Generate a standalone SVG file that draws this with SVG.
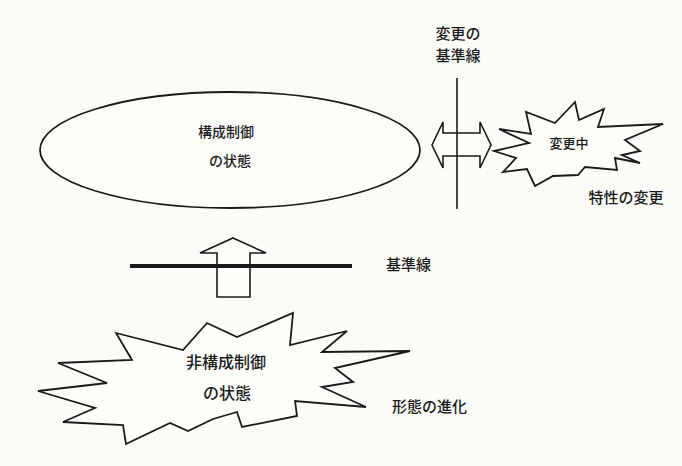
<svg xmlns="http://www.w3.org/2000/svg" width="682" height="466" viewBox="0 0 682 466">
<style>
.shape{fill:#fdfdfa;stroke:#1a1a1a;stroke-width:1.8;stroke-linejoin:miter}
.arrow{fill:#fdfdfa;stroke:#1a1a1a;stroke-width:1.6;stroke-linejoin:miter}
text{font-family:"Noto Sans CJK JP","Noto Sans CJK SC",sans-serif;fill:#1a1a1a;font-weight:500}
.t14{font-size:14px}
.t15{font-size:15px}
.t16{font-size:16px}
.t13{font-size:13px}
</style>
<rect x="0" y="0" width="682" height="466" fill="#fbfbf8"/>

<g id="controlled-state">
<ellipse class="shape" cx="230" cy="150" rx="190" ry="58"/>
<text class="t14" x="226" y="137" text-anchor="middle">構成制御</text>
<text class="t14" x="230" y="166" text-anchor="middle">の状態</text>
</g>

<g id="change-baseline">
<text class="t15" x="458" y="39" text-anchor="middle">変更の</text>
<text class="t15" x="458" y="61" text-anchor="middle">基準線</text>
</g>

<g id="changing">
<polygon class="shape" points="499,129 531,134 526,112 555,123 575,102 579,120 604,109 598,127 663,124 625,140 640,151 622,155 640,163 615,158 617,170 585,167 578,175 553,176 535,186 527,169 503,172 516,158 494,151 529,143"/>
<text class="t13" x="569" y="148" text-anchor="middle">変更中</text>
</g>

<g id="property-change">
<text class="t15" x="626" y="203" text-anchor="middle">特性の変更</text>
</g>

<g id="uncontrolled-state">
<polygon class="shape" points="116,333 183,350 207,323 237,337 293,313 290,345 347,331 322,352 410,351 335,368 353,382 322,387 366,407 295,401 297,416 242,427 237,412 213,419 188,431 170,423 126,444 123,425 63,422 95,408 38,391 107,383 58,363 132,360"/>
<text class="t16" x="226" y="368" text-anchor="middle">非構成制御</text>
<text class="t16" x="227" y="399" text-anchor="middle">の状態</text>
</g>

<g id="evolution">
<text class="t15" x="392" y="412">形態の進化</text>
</g>

<g id="baseline-label">
<text class="t15" x="386" y="270">基準線</text>
</g>

<g id="connectors">
<polygon class="arrow" points="233,238 266,253 250,253 250,297 217,297 217,253 200,253"/>
<line x1="130" y1="266" x2="352" y2="266" stroke="#1a1a1a" stroke-width="4"/>
<polygon class="arrow" fill="none" points="432,145 443,122 443,133 480,133 480,122 491,145 480,168 480,156 443,156 443,168"/>
<line x1="457" y1="78" x2="457" y2="209" stroke="#1a1a1a" stroke-width="1.6"/>
</g>
</svg>
